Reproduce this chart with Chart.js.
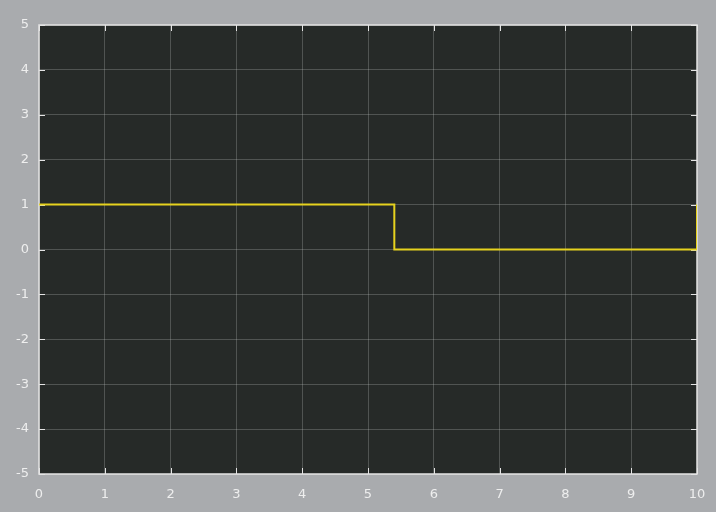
<!DOCTYPE html>
<html>
<head>
<meta charset="utf-8">
<script src="https://cdn.jsdelivr.net/npm/chart.js@4/dist/chart.umd.min.js"></script>
<style>
  html, body { margin: 0; padding: 0; background: #a9abae; }
  #wrap { width: 716px; height: 512px; position: relative; }
</style>
</head>
<body>
<div id="wrap"><canvas id="c" width="716" height="512"></canvas></div>
<script>
// Step signal: 1 until the switch time, then 0, back to 1 at the end
const timeValues = [0, 5.4, 5.4, 10, 10];
const signalValues = [1, 1, 0, 0, 1];
const xTicks = [0, 1, 2, 3, 4, 5, 6, 7, 8, 9, 10];
const yTicks = [-5, -4, -3, -2, -1, 0, 1, 2, 3, 4, 5];

const points = timeValues.map((t, i) => ({ x: t, y: signalValues[i] }));

// Dark plot area with a light frame and short inward tick marks
const scopeFrame = {
  id: 'scopeFrame',
  beforeDraw(chart) {
    const { ctx, chartArea: a } = chart;
    ctx.save();
    ctx.fillStyle = '#262a28';
    ctx.fillRect(a.left, a.top, a.right - a.left, a.bottom - a.top);
    ctx.restore();
  },
  beforeDatasetsDraw(chart) {
    const { ctx, chartArea: a, scales } = chart;
    ctx.save();
    ctx.strokeStyle = '#e4e4e4';
    ctx.lineWidth = 1.5;
    ctx.strokeRect(a.left, a.top, a.right - a.left, a.bottom - a.top);
    ctx.lineWidth = 1;
    xTicks.forEach(v => {
      const px = Math.round(scales.x.getPixelForValue(v)) + 0.5;
      ctx.beginPath(); ctx.moveTo(px, a.bottom); ctx.lineTo(px, a.bottom - 6); ctx.stroke();
      ctx.beginPath(); ctx.moveTo(px, a.top); ctx.lineTo(px, a.top + 6); ctx.stroke();
    });
    yTicks.forEach(v => {
      const py = Math.round(scales.y.getPixelForValue(v)) + 0.5;
      ctx.beginPath(); ctx.moveTo(a.left, py); ctx.lineTo(a.left + 6, py); ctx.stroke();
      ctx.beginPath(); ctx.moveTo(a.right, py); ctx.lineTo(a.right - 6, py); ctx.stroke();
    });
    ctx.restore();
  }
};

new Chart(document.getElementById('c'), {
  type: 'line',
  data: {
    datasets: [{
      data: points,
      borderColor: '#e6d21e',
      borderWidth: 2,
      pointRadius: 0,
      tension: 0,
      fill: false
    }]
  },
  options: {
    responsive: false,
    animation: false,
    layout: { padding: { top: 25, right: 19, left: 0, bottom: 0 } },
    plugins: { legend: { display: false }, tooltip: { enabled: false } },
    scales: {
      x: {
        type: 'linear',
        min: 0, max: 10,
        afterBuildTicks: s => { s.ticks = xTicks.map(v => ({ value: v })); },
        afterFit: s => { s.height = 38; s.paddingLeft = 0; s.paddingRight = 0; },
        grid: { color: 'rgba(190,195,195,0.28)', lineWidth: 1, drawTicks: false },
        border: { display: false },
        ticks: { color: '#eeeeee', font: { family: 'DejaVu Sans', size: 13 }, padding: 13 }
      },
      y: {
        type: 'linear',
        min: -5, max: 5,
        afterBuildTicks: s => { s.ticks = yTicks.map(v => ({ value: v })); },
        afterFit: s => { s.width = 39; s.paddingTop = 0; s.paddingBottom = 0; },
        grid: { color: 'rgba(190,195,195,0.28)', lineWidth: 1, drawTicks: false },
        border: { display: false },
        ticks: { color: '#eeeeee', font: { family: 'DejaVu Sans', size: 13 }, padding: 10 }
      }
    }
  },
  plugins: [scopeFrame]
});
</script>
</body>
</html>
